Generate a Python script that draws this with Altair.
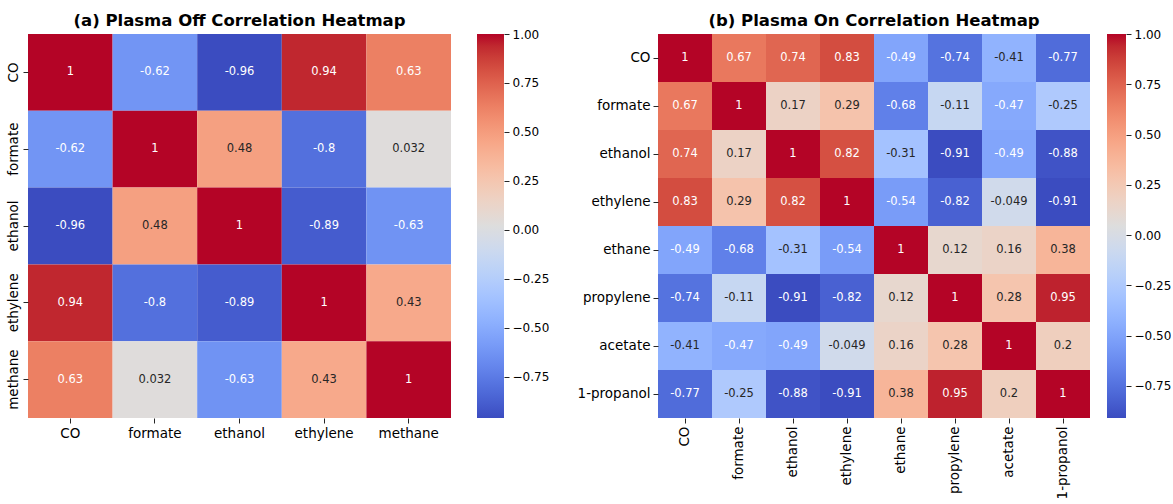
import altair as alt
import numpy as np
import pandas as pd

# --- data -------------------------------------------------------------------
off_labels = ["CO", "formate", "ethanol", "ethylene", "methane"]
off_corr = [
    [1.0, -0.62, -0.96, 0.94, 0.63],
    [-0.62, 1.0, 0.48, -0.8, 0.032],
    [-0.96, 0.48, 1.0, -0.89, -0.63],
    [0.94, -0.8, -0.89, 1.0, 0.43],
    [0.63, 0.032, -0.63, 0.43, 1.0],
]

on_labels = ["CO", "formate", "ethanol", "ethylene", "ethane",
             "propylene", "acetate", "1-propanol"]
on_corr = [
    [1.0, 0.67, 0.74, 0.83, -0.49, -0.74, -0.41, -0.77],
    [0.67, 1.0, 0.17, 0.29, -0.68, -0.11, -0.47, -0.25],
    [0.74, 0.17, 1.0, 0.82, -0.31, -0.91, -0.49, -0.88],
    [0.83, 0.29, 0.82, 1.0, -0.54, -0.82, -0.049, -0.91],
    [-0.49, -0.68, -0.31, -0.54, 1.0, 0.12, 0.16, 0.38],
    [-0.74, -0.11, -0.91, -0.82, 0.12, 1.0, 0.28, 0.95],
    [-0.41, -0.47, -0.49, -0.049, 0.16, 0.28, 1.0, 0.2],
    [-0.77, -0.25, -0.88, -0.91, 0.38, 0.95, 0.2, 1.0],
]

cbar_ticks = [-0.75, -0.5, -0.25, 0.0, 0.25, 0.5, 0.75, 1.0]

# --- coolwarm colormap stops --------------------------------------------------
COOLWARM = [
    "#3b4cc0", "#445acc", "#4d68d7", "#5775e1", "#6282ea", "#6c8ef1",
    "#779af7", "#82a5fb", "#8db0fe", "#98b9ff", "#a3c2ff", "#aec9fd",
    "#b8d0f9", "#c2d5f4", "#ccd9ee", "#d5dbe6", "#dddddd", "#e5d8d1",
    "#ecd3c6", "#f1ccb9", "#f5c4ad", "#f7bba0", "#f7b194", "#f7a687",
    "#f49a7b", "#f18d6f", "#ec7f63", "#e57058", "#de604d", "#d55042",
    "#cb3e38", "#c0282f", "#b40426",
]
STOPS = np.linspace(0.0, 1.0, len(COOLWARM))
RGB = np.array([[int(h[i:i + 2], 16) / 255.0 for i in (1, 3, 5)] for h in COOLWARM])

FONT = "DejaVu Sans"
TICK_COLOR = "#262626"


def cmap_rgb(t):
    return np.array([np.interp(t, STOPS, RGB[:, k]) for k in range(3)])


def luminance(rgb):
    lin = np.where(rgb <= 0.03928, rgb / 12.92, ((rgb + 0.055) / 1.055) ** 2.4)
    return 0.2126 * lin[0] + 0.7152 * lin[1] + 0.0722 * lin[2]


def long_table(labels, corr):
    vals = np.array(corr)
    vmin, vmax = vals.min(), vals.max()
    rows = []
    for i, r in enumerate(labels):
        for j, c in enumerate(labels):
            v = vals[i, j]
            t = (v - vmin) / (vmax - vmin)
            txt_color = "#262626" if luminance(cmap_rgb(t)) > 0.408 else "#ffffff"
            rows.append({"row": r, "col": c, "value": float(v),
                         "label": "{:.2g}".format(v), "tcolor": txt_color})
    return pd.DataFrame(rows), float(vmin), float(vmax)


def heatmap(labels, corr, title, w, h, rotate_y, rotate_x):
    df, vmin, vmax = long_table(labels, corr)
    domain = [float(vmin + s * (vmax - vmin)) for s in STOPS]
    band = alt.Scale(paddingInner=0, paddingOuter=0)
    x_axis = alt.Axis(
        title=None, domain=False, ticks=True, tickSize=5, tickColor=TICK_COLOR,
        labelFont=FONT, labelFontSize=13.5, labelColor="#000000", labelPadding=3,
        labelAngle=270 if rotate_x else 0,
        labelAlign="right" if rotate_x else "center",
        labelBaseline="middle" if rotate_x else "top",
    )
    y_axis = alt.Axis(
        title=None, domain=False, ticks=True, tickSize=5, tickColor=TICK_COLOR,
        labelFont=FONT, labelFontSize=13.5, labelColor="#000000", labelPadding=3,
        labelAngle=270 if rotate_y else 0,
        labelAlign="center" if rotate_y else "right",
        labelBaseline="bottom" if rotate_y else "middle",
    )
    base = alt.Chart(df).encode(
        x=alt.X("col:N", sort=labels, scale=band, axis=x_axis),
        y=alt.Y("row:N", sort=labels, scale=band, axis=y_axis),
    )
    cells = base.mark_rect(strokeWidth=0).encode(
        color=alt.Color("value:Q",
                        scale=alt.Scale(domain=domain, range=COOLWARM, interpolate="rgb"),
                        legend=None)
    )
    text = base.mark_text(font=FONT, fontSize=11.5).encode(
        text="label:N",
        color=alt.Color("tcolor:N", scale=None, legend=None),
    )
    chart = alt.layer(cells, text).resolve_scale(color="independent").properties(
        width=w, height=h,
        title=alt.TitleParams(title, font=FONT, fontSize=16.5, fontWeight="bold",
                              color="#000000", offset=5),
    )
    return chart, vmin, vmax


def colorbar(vmin, vmax, w, h):
    df = pd.DataFrame({"lo": [vmin], "hi": [vmax]})
    grad = alt.Gradient(
        gradient="linear",
        stops=[alt.GradientStop(color=c, offset=float(s)) for c, s in zip(COOLWARM, STOPS)],
        x1=0, x2=0, y1=1, y2=0,
    )
    return alt.Chart(df).mark_rect(fill=grad, strokeWidth=0).encode(
        y=alt.Y("lo:Q",
                scale=alt.Scale(domain=[vmin, vmax], nice=False, zero=False),
                axis=alt.Axis(orient="right", values=cbar_ticks, format=".2f", title=None,
                              domain=False, grid=False, tickSize=5, tickColor=TICK_COLOR,
                              labelFont=FONT, labelFontSize=12, labelColor="#000000",
                              labelPadding=3)),
        y2="hi:Q",
        x=alt.value(0),
        x2=alt.value(w),
    ).properties(
        width=w, height=h,
        title=alt.TitleParams(" ", font=FONT, fontSize=16.5, fontWeight="bold", offset=5),
    )


heat_off, off_min, off_max = heatmap(off_labels, off_corr,
                                     "(a) Plasma Off Correlation Heatmap",
                                     423, 384, rotate_y=True, rotate_x=False)
heat_on, on_min, on_max = heatmap(on_labels, on_corr,
                                  "(b) Plasma On Correlation Heatmap",
                                  432, 384, rotate_y=False, rotate_x=True)

left = alt.hconcat(heat_off, colorbar(off_min, off_max, 27, 384), spacing=26)
right = alt.hconcat(heat_on, colorbar(on_min, on_max, 19, 384), spacing=17)

chart = alt.hconcat(left, right, spacing=28).properties(
    padding={"left": 6, "top": 6, "right": 0, "bottom": 0},
    background="#ffffff",
).configure_view(strokeWidth=0)

chart.save("out.html", embed_options={"renderer": "svg", "actions": False})
